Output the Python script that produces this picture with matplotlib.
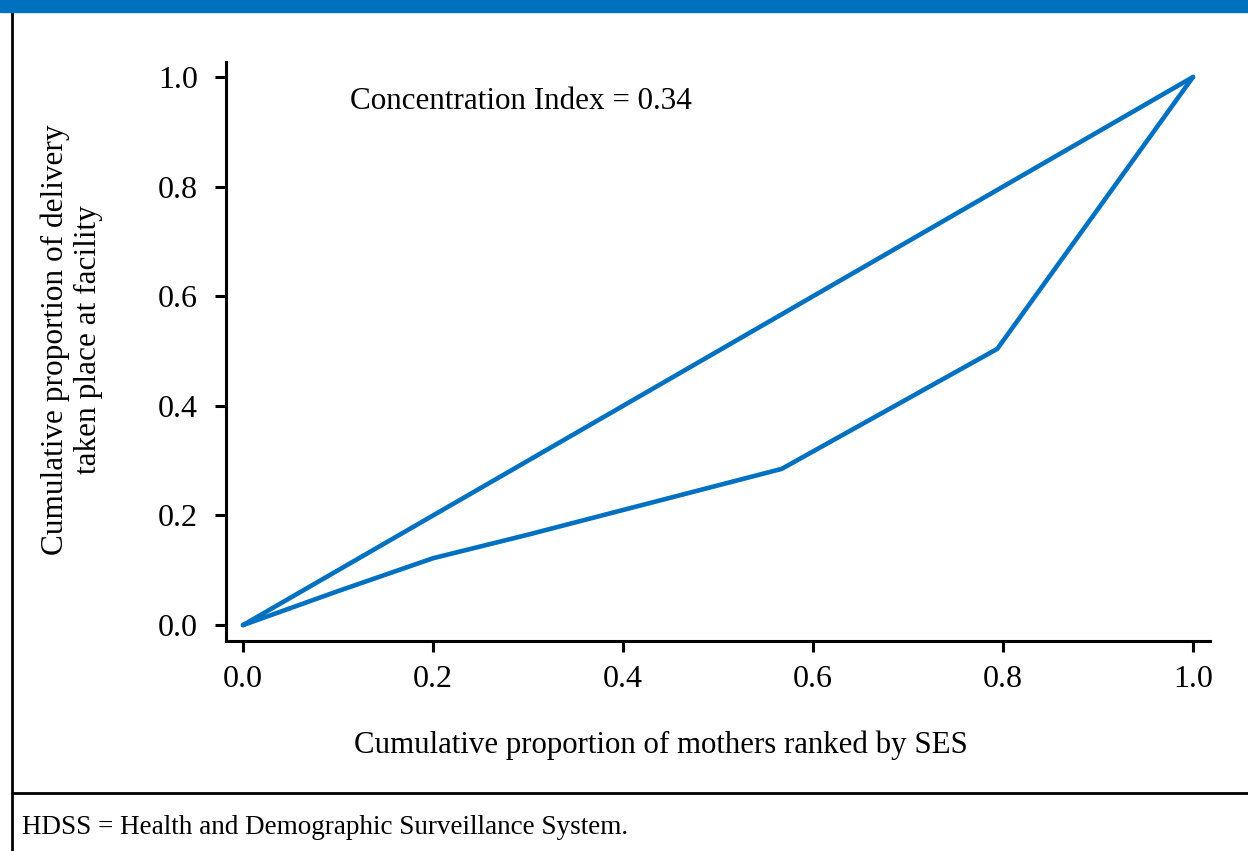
import matplotlib
matplotlib.use("Agg")
import matplotlib.pyplot as plt
from matplotlib.lines import Line2D
from matplotlib.patches import Rectangle

# datos
equality_x = [0.0, 1.0]
equality_y = [0.0, 1.0]
conc_x = [0.0, 0.1, 0.2, 0.3, 0.4, 0.567, 0.794, 1.0]
conc_y = [0.0, 0.062, 0.122, 0.165, 0.21, 0.285, 0.504, 1.0]
ticks = [0.0, 0.2, 0.4, 0.6, 0.8, 1.0]
tick_labels = ["0.0", "0.2", "0.4", "0.6", "0.8", "1.0"]

blue = "#0070c0"
W, H = 1248, 851
plt.rcParams["font.family"] = "Liberation Serif"

fig = plt.figure(figsize=(W / 100, H / 100), dpi=100)
ax = fig.add_axes([226 / W, 1 - 641 / H, (1210 - 226) / W, (641 - 62) / H])

ax.plot(equality_x, equality_y, color=blue, lw=3.3, solid_capstyle="round", solid_joinstyle="round")
ax.plot(conc_x, conc_y, color=blue, lw=3.3, solid_capstyle="round", solid_joinstyle="round")

ax.set_xlim(-0.0179, 1.0179)
ax.set_ylim(-0.029, 1.0274)
ax.set_xticks(ticks)
ax.set_xticklabels(tick_labels)
ax.set_yticks(ticks)
ax.set_yticklabels(tick_labels)
ax.tick_params(direction="out", length=8, width=2.2, labelsize=23)
ax.tick_params(axis="x", pad=9)
ax.tick_params(axis="y", pad=12)
for s in ["top", "right"]:
    ax.spines[s].set_visible(False)
for s in ["left", "bottom"]:
    ax.spines[s].set_linewidth(2.2)

ax.text(0.113, 0.955, "Concentration Index = 0.34", fontsize=22.4, va="center", ha="left")

fig.text(661 / W, 1 - 745 / H, "Cumulative proportion of mothers ranked by SES",
         fontsize=22.2, ha="center", va="center")
fig.text(72 / W, 1 - 340 / H, "Cumulative proportion of delivery\ntaken place at facility",
         fontsize=22.5, ha="center", va="center", rotation=90, linespacing=1.2)

# marco: barra azul, borde izquierdo, línea de la nota
fig.patches.append(Rectangle((0, 1 - 12 / H), 1, 12 / H, transform=fig.transFigure,
                             color=blue, zorder=5))
fig.lines.append(Line2D([12 / W, 12 / W], [0, 1 - 12 / H], transform=fig.transFigure,
                        color="black", lw=2))
fig.lines.append(Line2D([12 / W, 1], [1 - 793 / H, 1 - 793 / H], transform=fig.transFigure,
                        color="black", lw=2))
fig.text(22 / W, 1 - 827 / H, "HDSS = Health and Demographic Surveillance System.",
         fontsize=19.5, ha="left", va="center")

fig.savefig("out.png", dpi=100)
